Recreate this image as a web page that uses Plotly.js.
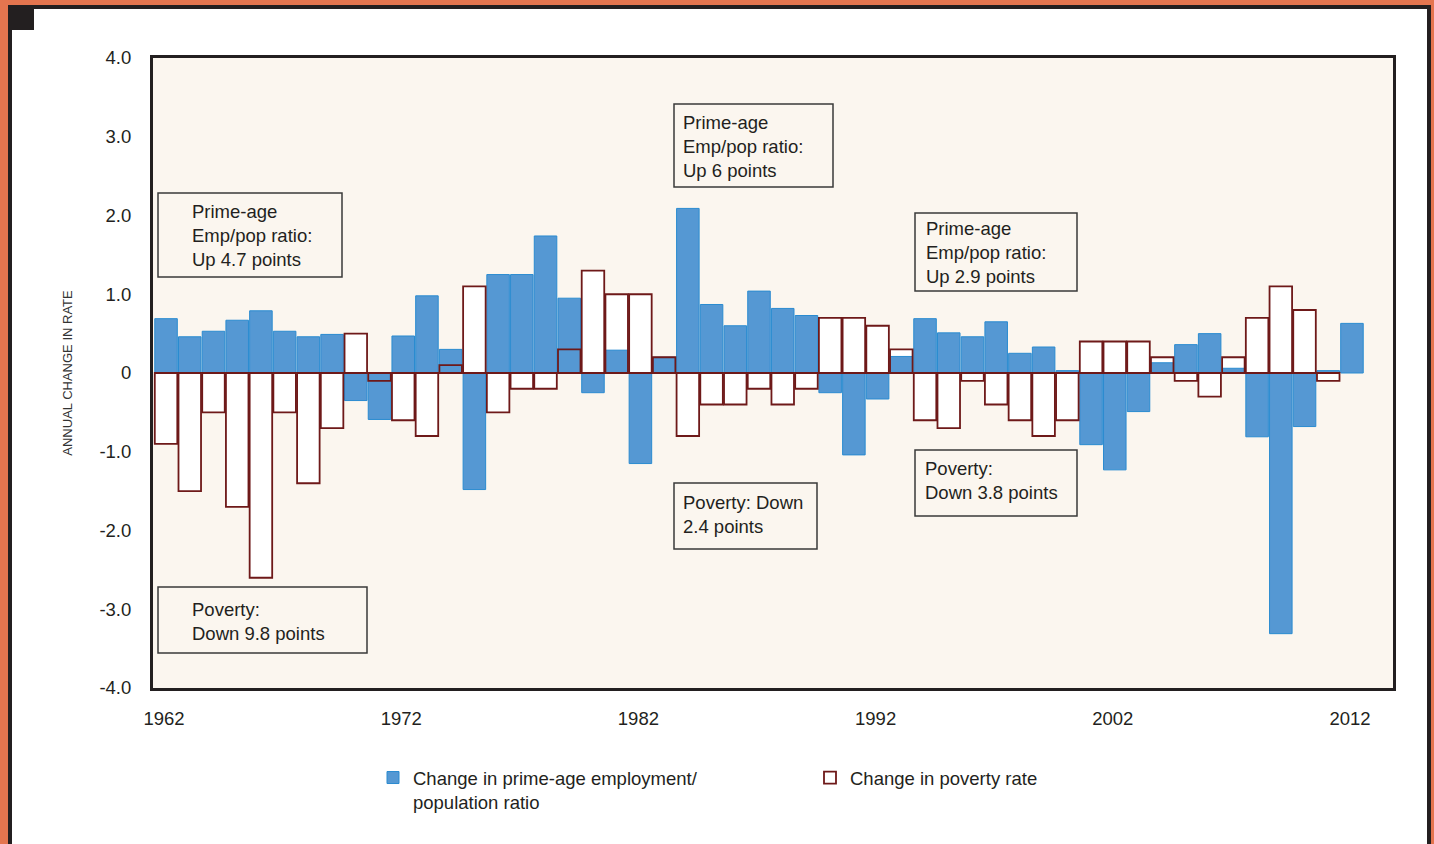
<!DOCTYPE html>
<html><head><meta charset="utf-8">
<script src="https://cdn.plot.ly/plotly-3.0.1.min.js"></script>
<style>
html,body{margin:0;padding:0;width:1434px;height:844px;overflow:hidden;background:#e4754f;}
#frame{position:absolute;left:8px;top:5px;width:1415px;height:860px;border-left:4px solid #231f20;border-top:4px solid #231f20;border-right:4px solid #231f20;background:#fff;}
#sq{position:absolute;left:8px;top:5px;width:26px;height:25px;background:#231f20;}
#chart{position:absolute;left:0;top:0;width:1434px;height:844px;}
</style></head><body>
<div id="frame"></div><div id="sq"></div><div id="chart"></div>
<script>
const years = [1962,1963,1964,1965,1966,1967,1968,1969,1970,1971,
  1972,1973,1974,1975,1976,1977,1978,1979,1980,1981,
  1982,1983,1984,1985,1986,1987,1988,1989,1990,1991,
  1992,1993,1994,1995,1996,1997,1998,1999,2000,2001,
  2002,2003,2004,2005,2006,2007,2008,2009,2010,2011,2012];
const employmentChange = [0.69,0.46,0.53,0.67,0.79,0.53,0.46,0.49,-0.35,-0.59,
  0.47,0.98,0.30,-1.48,1.25,1.25,1.74,0.95,-0.25,0.29,
  -1.15,0.20,2.09,0.87,0.60,1.04,0.82,0.73,-0.25,-1.04,
  -0.33,0.21,0.69,0.51,0.46,0.65,0.25,0.33,0.03,-0.91,
  -1.23,-0.49,0.13,0.36,0.50,0.06,-0.81,-3.31,-0.68,0.03,0.63];
const povertyChange = [-0.9,-1.5,-0.5,-1.7,-2.6,-0.5,-1.4,-0.7,0.5,-0.1,
  -0.6,-0.8,0.1,1.1,-0.5,-0.2,-0.2,0.3,1.3,1.0,
  1.0,0.2,-0.8,-0.4,-0.4,-0.2,-0.4,-0.2,0.7,0.7,
  0.6,0.3,-0.6,-0.7,-0.1,-0.4,-0.6,-0.8,-0.6,0.4,
  0.4,0.4,0.2,-0.1,-0.3,0.2,0.7,1.1,0.8,-0.1,0.0];
const xTickYears = [1962,1972,1982,1992,2002,2012];
const xTickLabels = ['1962','1972','1982','1992','2002','2012'];
const yTickVals = [4,3,2,1,0,-1,-2,-3,-4];
const yTickLabels = ['4.0','3.0','2.0','1.0','0','-1.0','-2.0','-3.0','-4.0'];
const boxTexts = [
  'Prime-age<br>Emp/pop ratio:<br>Up 4.7 points',
  'Prime-age<br>Emp/pop ratio:<br>Up 6 points',
  'Prime-age<br>Emp/pop ratio:<br>Up 2.9 points',
  'Poverty:<br>Down 9.8 points',
  'Poverty: Down<br>2.4 points',
  'Poverty:<br>Down 3.8 points'
];

// pixel helpers for the plot area (153..1393 x 58..688)
const L = 153, R = 1393, T = 58, B = 688;
const px = x => (x - L) / (R - L);
const py = y => (B - y) / (B - T);

// box geometry in pixels [x0,y0,x1,y1,textX,textTop]
const boxes = [
  [158,193,342,277,190,199],
  [674,104,833,187,681,110],
  [915,213,1077,291,924,216],
  [158,587,367,653,190,597],
  [674,483,817,549,681,490],
  [915,450,1077,516,923,456]
];

const FONT = '"Liberation Sans", Arial, Helvetica, sans-serif';
const TXT = '#231f20';
const BW = 0.95;

const traces = [
  {type:'bar', x:years, y:povertyChange, width:BW,
   marker:{color:'#ffffff', line:{width:0}}, showlegend:false, hoverinfo:'skip'},
  {type:'bar', x:years, y:employmentChange, width:BW,
   name:'Change in prime-age employment/<br>population ratio',
   marker:{color:'#5598d3', line:{color:'#2a8bd0', width:1}}},
  {type:'bar', x:years, y:povertyChange, width:BW,
   name:'Change in poverty rate',
   marker:{color:'rgba(255,255,255,0)',
     line:{color:'#6e1919', width:povertyChange.map(v => v === 0 ? 0 : 1.8)}}}
];

const shapes = boxes.map(b => ({type:'rect', xref:'paper', yref:'paper',
  x0:px(b[0]), x1:px(b[2]), y0:py(b[3]), y1:py(b[1]),
  line:{color:'#3a3a3a', width:1.5}, fillcolor:'rgba(0,0,0,0)', layer:'above'}));

const annotations = boxes.map((b,i) => ({xref:'paper', yref:'paper',
  x:px(b[4]), y:py(b[5]), xanchor:'left', yanchor:'top', align:'left',
  showarrow:false, text:boxTexts[i], font:{family:FONT, size:18.5, color:TXT}}));

const layout = {
  width:1434, height:844,
  margin:{l:L, r:1434-R, t:T, b:844-B},
  paper_bgcolor:'rgba(0,0,0,0)', plot_bgcolor:'#fbf6ef',
  barmode:'overlay', bargap:0,
  font:{family:FONT, size:18, color:TXT},
  xaxis:{range:[1961.45, 2013.73], tickvals:xTickYears, ticktext:xTickLabels,
    showgrid:false, zeroline:false, showline:true, mirror:true,
    linecolor:'#231f20', linewidth:3, ticks:'', ticklabelstandoff:12, ticklabelshift:-2,
    tickfont:{family:FONT, size:18.5, color:TXT}},
  yaxis:{range:[-4,4], tickvals:yTickVals, ticktext:yTickLabels,
    showgrid:false, zeroline:false, showline:true, mirror:true,
    linecolor:'#231f20', linewidth:3, ticks:'', ticklabelstandoff:15,
    tickfont:{family:FONT, size:18.5, color:TXT},
    title:{text:'ANNUAL CHANGE IN RATE', font:{family:FONT, size:13, color:'#333'}, standoff:24}},
  legend:{orientation:'h', x:px(373), y:py(759), xanchor:'left', yanchor:'top',
    valign:'top', entrywidth:392, itemwidth:30, bgcolor:'rgba(0,0,0,0)',
    font:{family:FONT, size:18.5, color:TXT}, traceorder:'normal'},
  shapes:shapes, annotations:annotations
};

Plotly.newPlot('chart', traces, layout, {displayModeBar:false, staticPlot:true});
</script>
</body></html>
